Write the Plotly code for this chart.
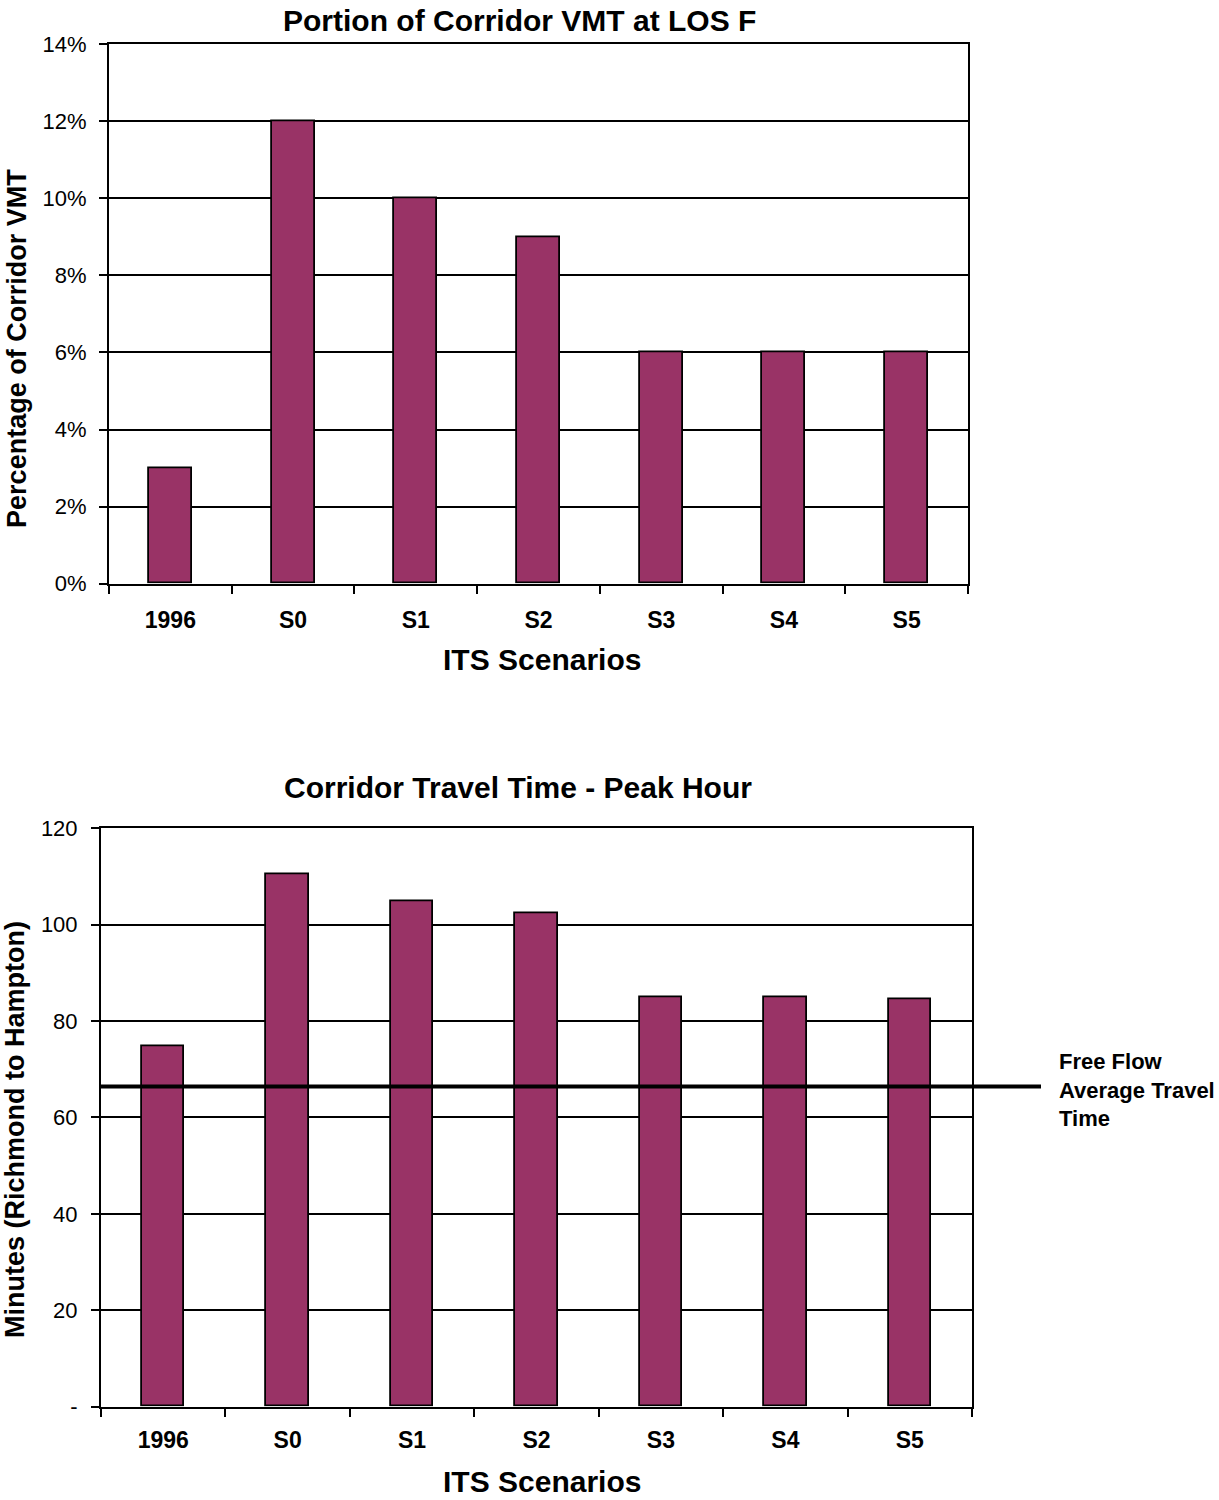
import plotly.graph_objects as go

categories = ["1996", "S0", "S1", "S2", "S3", "S4", "S5"]
los_f_share = [0.03, 0.12, 0.10, 0.09, 0.06, 0.06, 0.06]
travel_minutes = [74.7, 110.5, 104.9, 102.4, 84.9, 84.9, 84.6]
free_flow_minutes = 66.4
top_ticks = [0, 0.02, 0.04, 0.06, 0.08, 0.10, 0.12, 0.14]
bottom_ticks = [0, 20, 40, 60, 80, 100, 120]
bottom_ticktext = ["-", "20", "40", "60", "80", "100", "120"]

W, H = 1219, 1500
def px(x): return x / W
def T(y): return (y - 10.65) / 0.9846   # compensate observed vertical placement
def py(y): return 1 - T(y) / H

FONT = "Liberation Sans, Arial, sans-serif"
BAR = "#993366"

fig = go.Figure()
fig.add_trace(go.Bar(x=categories, y=los_f_share, width=0.35,
                     marker=dict(color=BAR, line=dict(color="black", width=1.8)),
                     xaxis="x", yaxis="y", showlegend=False))
fig.add_trace(go.Bar(x=categories, y=travel_minutes, width=0.34,
                     marker=dict(color=BAR, line=dict(color="black", width=1.8)),
                     xaxis="x2", yaxis="y2", showlegend=False))

def xaxis_style(standoff):
    return dict(type="category", showline=True, linecolor="black", linewidth=2, mirror=True,
                ticks="outside", tickson="boundaries", ticklen=8, tickcolor="black", tickwidth=2,
                tickfont=dict(family=FONT, size=23, color="black", weight="bold"),
                showgrid=False, ticklabelstandoff=standoff)

def yaxis_style(standoff):
    return dict(showline=True, linecolor="black", linewidth=2, mirror=True,
                ticks="outside", ticklen=8, tickcolor="black", tickwidth=2,
                tickfont=dict(family=FONT, size=22, color="black"),
                showgrid=True, gridcolor="black", gridwidth=1.5, zeroline=False,
                ticklabelstandoff=standoff)

fig.update_layout(
    width=W, height=H, margin=dict(l=0, r=0, t=0, b=0),
    plot_bgcolor="white", paper_bgcolor="white", bargap=0,
    font=dict(family=FONT, color="black"),
    xaxis=dict(domain=[px(109), px(968)], anchor="y", **xaxis_style(15)),
    yaxis=dict(domain=[py(583), py(43)], anchor="x", range=[0, 0.14],
               tickvals=top_ticks, tickformat=".0%", **yaxis_style(8)),
    xaxis2=dict(domain=[px(101), px(972)], anchor="y2", **xaxis_style(12)),
    yaxis2=dict(domain=[py(1407), py(828)], anchor="x2", range=[0, 120],
                tickvals=bottom_ticks, ticktext=bottom_ticktext, **yaxis_style(9)),
)

def label(text, x, y, size, angle=0, anchor="center"):
    fig.add_annotation(text=text, xref="paper", yref="paper", x=px(x), y=py(y),
                       showarrow=False, textangle=angle, xanchor=anchor, yanchor="middle",
                       font=dict(family=FONT, size=size, color="black"))

label("<b>Portion of Corridor VMT at LOS F</b>", 519, 19, 30)
label("<b>Corridor Travel Time - Peak Hour</b>", 518, 787, 30)
label("<b>ITS Scenarios</b>", 542, 659, 30)
label("<b>ITS Scenarios</b>", 542, 1482, 30)
label("<b>Percentage of Corridor VMT</b>", 17, 348, 27, angle=-90)
label("<b>Minutes (Richmond to Hampton)</b>", 15, 1130, 27, angle=-90)

fig.add_shape(type="line", xref="x2 domain", yref="y2", x0=0, x1=(1041 - 101) / 871,
              y0=free_flow_minutes, y1=free_flow_minutes, line=dict(color="black", width=4))
fig.add_annotation(text="<b>Free Flow<br>Average Travel<br>Time</b>", xref="paper", yref="y2",
                   x=px(1057), y=free_flow_minutes - 0.8, showarrow=False, align="left",
                   xanchor="left", yanchor="middle", font=dict(family=FONT, size=22, color="black"))

fig.write_html("out.html", config={"displayModeBar": False},
               post_script="document.body.style.margin='0';")
